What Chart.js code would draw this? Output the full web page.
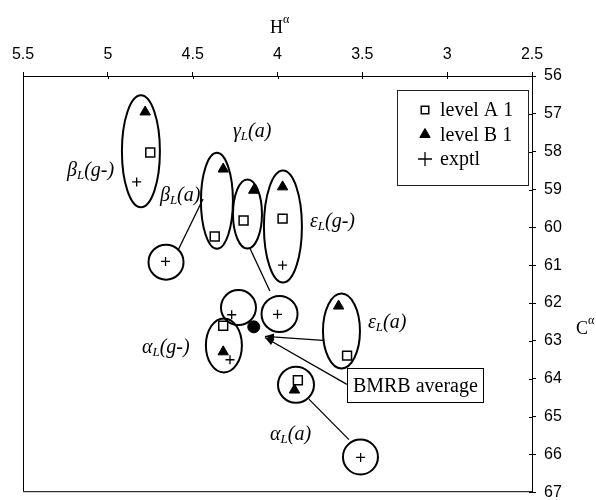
<!DOCTYPE html>
<html>
<head>
<meta charset="utf-8">
<script src="https://cdn.jsdelivr.net/npm/chart.js@4.4.1/dist/chart.umd.min.js"></script>
<style>
  html, body { margin: 0; padding: 0; background: #fff; }
  #wrap { width: 596px; height: 500px; }
</style>
</head>
<body>
<div id="wrap"><canvas id="shiftChart"></canvas></div>
<script>
// conformer groups (greek symbol + conformation), subscript L is added when drawn
const groupSymbols = ["β", "β", "γ", "ε", "α", "ε", "α"];
const groupConfs = ["(g-)", "(a)", "(a)", "(g-)", "(g-)", "(a)", "(a)"];

// level A 1 (open squares), same order as the groups
const levelA_H = [4.75, 4.37, 4.20, 3.97, 4.32, 3.59, 3.88];
const levelA_C = [58.02, 60.24, 59.82, 59.77, 62.60, 63.39, 64.04];

// level B 1 (filled triangles)
const levelB_H = [4.78, 4.32, 4.14, 3.97, 4.32, 3.64, 3.90];
const levelB_C = [56.95, 58.46, 59.02, 58.93, 63.29, 62.08, 64.30];

// exptl (plus signs)
const exptl_H = [4.83, 4.66, 4.00, 3.97, 4.28, 4.27, 3.51];
const exptl_C = [58.80, 60.90, 62.30, 61.00, 63.50, 62.31, 66.08];

// BMRB average
const bmrb_H = [4.14];
const bmrb_C = [62.63];

const xTicks = [5.5, 5, 4.5, 4, 3.5, 3, 2.5];
const yTicks = [56, 57, 58, 59, 60, 61, 62, 63, 64, 65, 66, 67];

// --- drawing layout for the annotations (data units for centres, px for radii) ---
const ellipses = [
  [4.805, 57.99, 19, 56],   // beta g-
  [4.357, 59.30, 16, 48],   // beta a
  [4.177, 59.65, 14.5, 34.5], // gamma a
  [3.968, 59.98, 19, 56],   // eps g-
  [4.316, 63.12, 18, 27],   // alpha g-
  [3.623, 62.74, 18.5, 37.5], // eps a
  [3.891, 64.16, 18, 18],   // alpha a
  [4.657, 60.92, 17.5, 17.5],
  [3.988, 62.29, 18, 18],
  [4.230, 62.12, 17.5, 17.5],
  [3.511, 66.07, 17.5, 17.5]
];
const links = [
  [4.587, 60.61, 4.439, 59.25],
  [4.162, 60.56, 4.045, 61.68],
  [3.815, 64.54, 3.579, 65.61]
];
const arrows = [
  [3.732, 62.99, 4.074, 62.88],
  [3.591, 64.15, 4.074, 62.91]
];
const labelPos = [
  [5.241, 58.51], [4.693, 59.17], [4.263, 57.47], [3.809, 59.85],
  [4.799, 63.18], [3.467, 62.52], [4.044, 65.48]
];
const bmrbBox = [3.591, 63.73, 2.789, 64.64];

const serif = '"Liberation Serif", "Times New Roman", serif';
const sans = '"Liberation Sans", Arial, sans-serif';

function pts(hs, cs) {
  return hs.map((h, i) => ({ x: h, y: cs[i] }));
}

function greekLabel(ctx, sym, conf, px, py) {
  ctx.textBaseline = "middle";
  ctx.textAlign = "left";
  ctx.font = "italic 20px " + serif;
  ctx.fillText(sym, px, py);
  let w = ctx.measureText(sym).width;
  ctx.font = "italic 13px " + serif;
  ctx.fillText("L", px + w, py + 5);
  w += ctx.measureText("L").width;
  ctx.font = "italic 20px " + serif;
  ctx.fillText(conf, px + w, py);
}

function arrowHead(ctx, x1, y1, x2, y2) {
  const a = Math.atan2(y2 - y1, x2 - x1);
  const len = 9, half = 3.5;
  ctx.beginPath();
  ctx.moveTo(x2, y2);
  ctx.lineTo(x2 - len * Math.cos(a) + half * Math.sin(a), y2 - len * Math.sin(a) - half * Math.cos(a));
  ctx.lineTo(x2 - len * Math.cos(a) - half * Math.sin(a), y2 - len * Math.sin(a) + half * Math.cos(a));
  ctx.closePath();
  ctx.fill();
}

function noEdgePadding(s) {
  s.paddingTop = 0;
  s.paddingBottom = 0;
  s.paddingLeft = 0;
  s.paddingRight = 0;
}

const decor = {
  id: "decor",
  beforeDatasetsDraw(chart) {
    const { ctx, chartArea: ca, scales: { x, y } } = chart;
    ctx.save();
    ctx.strokeStyle = "#000";
    ctx.fillStyle = "#000";

    // left and bottom frame lines
    ctx.lineWidth = 1;
    ctx.beginPath();
    ctx.moveTo(ca.left + 0.5, ca.top);
    ctx.lineTo(ca.left + 0.5, ca.bottom - 0.5);
    ctx.lineTo(ca.right, ca.bottom - 0.5);
    ctx.stroke();

    // short inner tick marks so the ticks cross the top and right axes
    x.ticks.forEach(t => {
      const px = Math.round(x.getPixelForValue(t.value)) + 0.5;
      ctx.beginPath();
      ctx.moveTo(px, ca.top);
      ctx.lineTo(px, ca.top + 3);
      ctx.stroke();
    });
    y.ticks.forEach(t => {
      const py = Math.round(y.getPixelForValue(t.value)) + 0.5;
      ctx.beginPath();
      ctx.moveTo(ca.right - 3, py);
      ctx.lineTo(ca.right, py);
      ctx.stroke();
    });

    ctx.lineWidth = 2;
    ellipses.forEach(([h, c, rx, ry]) => {
      ctx.beginPath();
      ctx.ellipse(x.getPixelForValue(h), y.getPixelForValue(c), rx, ry, 0, 0, Math.PI * 2);
      ctx.stroke();
    });

    ctx.lineWidth = 1.3;
    links.forEach(([h1, c1, h2, c2]) => {
      ctx.beginPath();
      ctx.moveTo(x.getPixelForValue(h1), y.getPixelForValue(c1));
      ctx.lineTo(x.getPixelForValue(h2), y.getPixelForValue(c2));
      ctx.stroke();
    });
    arrows.forEach(([h1, c1, h2, c2]) => {
      const x1 = x.getPixelForValue(h1), y1 = y.getPixelForValue(c1);
      const x2 = x.getPixelForValue(h2), y2 = y.getPixelForValue(c2);
      ctx.beginPath();
      ctx.moveTo(x1, y1);
      ctx.lineTo(x2, y2);
      ctx.stroke();
      arrowHead(ctx, x1, y1, x2, y2);
    });
    ctx.restore();
  },
  afterDraw(chart) {
    const { ctx, chartArea: ca, scales: { x, y } } = chart;
    ctx.save();
    ctx.fillStyle = "#000";
    ctx.strokeStyle = "#000";

    // group labels
    groupSymbols.forEach((s, i) => {
      greekLabel(ctx, s, groupConfs[i], x.getPixelForValue(labelPos[i][0]), y.getPixelForValue(labelPos[i][1]));
    });

    // BMRB average box
    const bx1 = x.getPixelForValue(bmrbBox[0]), by1 = y.getPixelForValue(bmrbBox[1]);
    const bx2 = x.getPixelForValue(bmrbBox[2]), by2 = y.getPixelForValue(bmrbBox[3]);
    ctx.fillStyle = "#fff";
    ctx.fillRect(bx1, by1, bx2 - bx1, by2 - by1);
    ctx.lineWidth = 1;
    ctx.strokeRect(Math.round(bx1) + 0.5, Math.round(by1) + 0.5, Math.round(bx2 - bx1), Math.round(by2 - by1));
    ctx.fillStyle = "#000";
    ctx.font = "20px " + serif;
    ctx.textAlign = "left";
    ctx.textBaseline = "middle";
    ctx.fillText("BMRB average", bx1 + 6, (by1 + by2) / 2 + 1);

    // axis titles with superscript alpha
    ctx.font = "18px " + serif;
    ctx.textBaseline = "alphabetic";
    ctx.fillText("H", 270, 33);
    ctx.font = "12px " + serif;
    ctx.fillText("α", 283, 23);
    ctx.font = "18px " + serif;
    ctx.fillText("C", 576, 334);
    ctx.font = "12px " + serif;
    ctx.fillText("α", 588, 324);

    // legend
    const lx = ca.right - 135, ly = ca.top + 14;
    ctx.fillStyle = "#fff";
    ctx.fillRect(lx, ly, 131, 95);
    ctx.strokeStyle = "#222";
    ctx.lineWidth = 1;
    ctx.strokeRect(lx + 0.5, ly + 0.5, 131, 95);
    chart.data.datasets.slice(0, 3).forEach((ds, i) => {
      const cy = ly + 20 + i * 24.5;
      ctx.fillStyle = ds.backgroundColor;
      ctx.strokeStyle = ds.borderColor;
      ctx.lineWidth = ds.pointBorderWidth;
      Chart.helpers.drawPoint(ctx, { pointStyle: ds.pointStyle, radius: ds.legendRadius, rotation: 0, borderWidth: ds.pointBorderWidth }, lx + 28, cy);
      ctx.fillStyle = "#000";
      ctx.font = "20px " + serif;
      ctx.textBaseline = "middle";
      ctx.fillText(ds.label, lx + 43, cy + 1);
    });
    ctx.restore();
  }
};

new Chart(document.getElementById("shiftChart"), {
  type: "scatter",
  data: {
    datasets: [
      {
        label: "level A 1",
        data: pts(levelA_H, levelA_C),
        pointStyle: "rect",
        pointRadius: 6.3,
        legendRadius: 5.3,
        backgroundColor: "#fff",
        borderColor: "#000",
        pointBorderWidth: 1.5
      },
      {
        label: "level B 1",
        data: pts(levelB_H, levelB_C),
        pointStyle: "triangle",
        pointRadius: 6,
        legendRadius: 6,
        backgroundColor: "#000",
        borderColor: "#000",
        pointBorderWidth: 1
      },
      {
        label: "exptl",
        data: pts(exptl_H, exptl_C),
        pointStyle: "cross",
        pointRadius: 4.5,
        legendRadius: 7,
        backgroundColor: "#000",
        borderColor: "#000",
        pointBorderWidth: 1.3
      },
      {
        label: "BMRB average",
        data: pts(bmrb_H, bmrb_C),
        pointStyle: "circle",
        pointRadius: 6,
        backgroundColor: "#000",
        borderColor: "#000",
        pointBorderWidth: 1
      }
    ]
  },
  options: {
    responsive: true,
    maintainAspectRatio: false,
    animation: false,
    events: [],
    layout: { padding: { left: 23, right: 0, top: 0, bottom: 4 } },
    plugins: {
      legend: { display: false },
      tooltip: { enabled: false }
    },
    scales: {
      x: {
        type: "linear",
        position: "top",
        reverse: true,
        min: 2.5,
        max: 5.5,
        afterBuildTicks: (s) => { s.ticks = xTicks.map(v => ({ value: v })); },
        afterFit: (s) => { s.height = 76; noEdgePadding(s); },
        ticks: { color: "#000", font: { family: sans, size: 16 }, padding: 8, maxRotation: 0, callback: (v) => String(v) },
        grid: { drawOnChartArea: false, tickLength: 4, color: "#000" },
        border: { color: "#000", width: 1 }
      },
      y: {
        type: "linear",
        position: "right",
        reverse: true,
        min: 56,
        max: 67,
        afterBuildTicks: (s) => { s.ticks = yTicks.map(v => ({ value: v })); },
        afterFit: (s) => { s.width = 64; noEdgePadding(s); },
        ticks: { color: "#000", font: { family: sans, size: 16 }, padding: 8, callback: (v) => String(v) },
        grid: { drawOnChartArea: false, tickLength: 4, color: "#000" },
        border: { color: "#000", width: 1 }
      }
    }
  },
  plugins: [decor]
});
</script>
</body>
</html>
